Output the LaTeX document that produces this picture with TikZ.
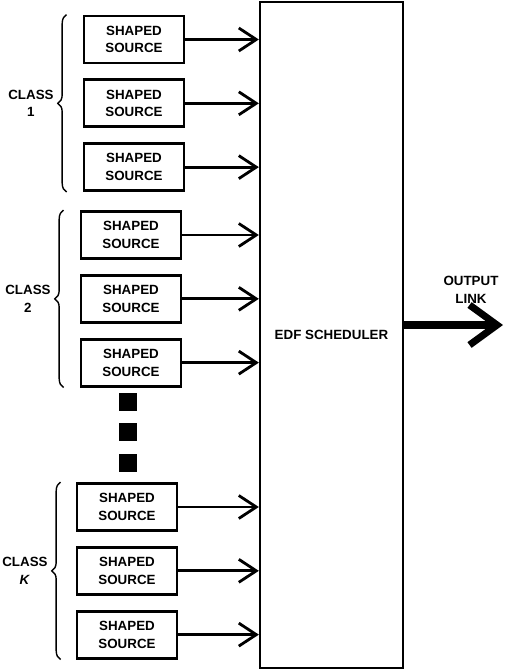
\documentclass[tikz,border=0pt]{standalone}
\usepackage{fontspec}
\setmainfont{Liberation Sans}
\usetikzlibrary{arrows.meta,positioning,decorations.pathreplacing}

\begin{document}
\begin{tikzpicture}[node distance=2.8mm, every node/.style={font=\bfseries\fontsize{7.6}{10}\selectfont},
			box/.style={draw, line width=1.6pt, minimum width=20mm, minimum height=9.4mm, align=center, inner sep=1pt},
			arr/.style={-{Straight Barb[length=3.5mm,width=4.6mm]}, line width=1.6pt},
			brc/.style={decorate, decoration={brace, amplitude=5pt}, line width=0.8pt},
			dot/.style={fill, minimum size=3.6mm, inner sep=0pt}]
			\useasboundingbox (0,0) rectangle (10.12,-13.44);
			\node[draw, line width=1.3pt, minimum width=28.6mm, minimum height=133.2mm] (edf) at (6.63,-6.7) {EDF SCHEDULER};
			\node[box] (s11) at (2.68,-0.79) {SHAPED\\SOURCE};
			\node[box, below=of s11] (s12) {SHAPED\\SOURCE};
			\node[box, below=of s12] (s13) {SHAPED\\SOURCE};
			\node[box] (s21) at (2.62,-4.7) {SHAPED\\SOURCE};
			\node[box, below=of s21] (s22) {SHAPED\\SOURCE};
			\node[box, below=of s22] (s23) {SHAPED\\SOURCE};
			\node[box] (sk1) at (2.54,-10.14) {SHAPED\\SOURCE};
			\node[box, below=of sk1] (sk2) {SHAPED\\SOURCE};
			\node[box, below=of sk2] (sk3) {SHAPED\\SOURCE};
			\node[dot] (d1) at (2.56,-8.04) {};
			\node[dot] (d2) at (2.56,-8.64) {};
			\node[dot] (d3) at (2.56,-9.26) {};
			\foreach \s in {s11,s12,s13,s21,s22,s23,sk1,sk2,sk3}
				\draw[arr] (\s.east) -- (\s.east -| edf.west);
			\draw[brc] ([xshift=-3.2mm]s13.south west) -- ([xshift=-3.2mm]s11.north west) node[midway, left=7pt, align=center, inner sep=0pt] (c1) {CLASS\\1};
			\draw[brc] ([xshift=-3.2mm]s23.south west) -- ([xshift=-3.2mm]s21.north west) node[midway, left=7pt, align=center, inner sep=0pt] (c2) {CLASS\\2};
			\draw[brc] ([xshift=-3mm]sk3.south west) -- ([xshift=-3mm]sk1.north west) node[midway, left=7pt, align=center, inner sep=0pt] (ck) {CLASS\\\textit{K}};
			\coordinate (out) at (10.06,-6.5);
			\draw[-{Straight Barb[length=5.5mm,width=8mm]}, line width=4pt] (edf.east |- out) -- (out);
			\node[align=center] (ol) at (9.42,-5.8) {OUTPUT\\LINK};
		\end{tikzpicture}
\end{document}
